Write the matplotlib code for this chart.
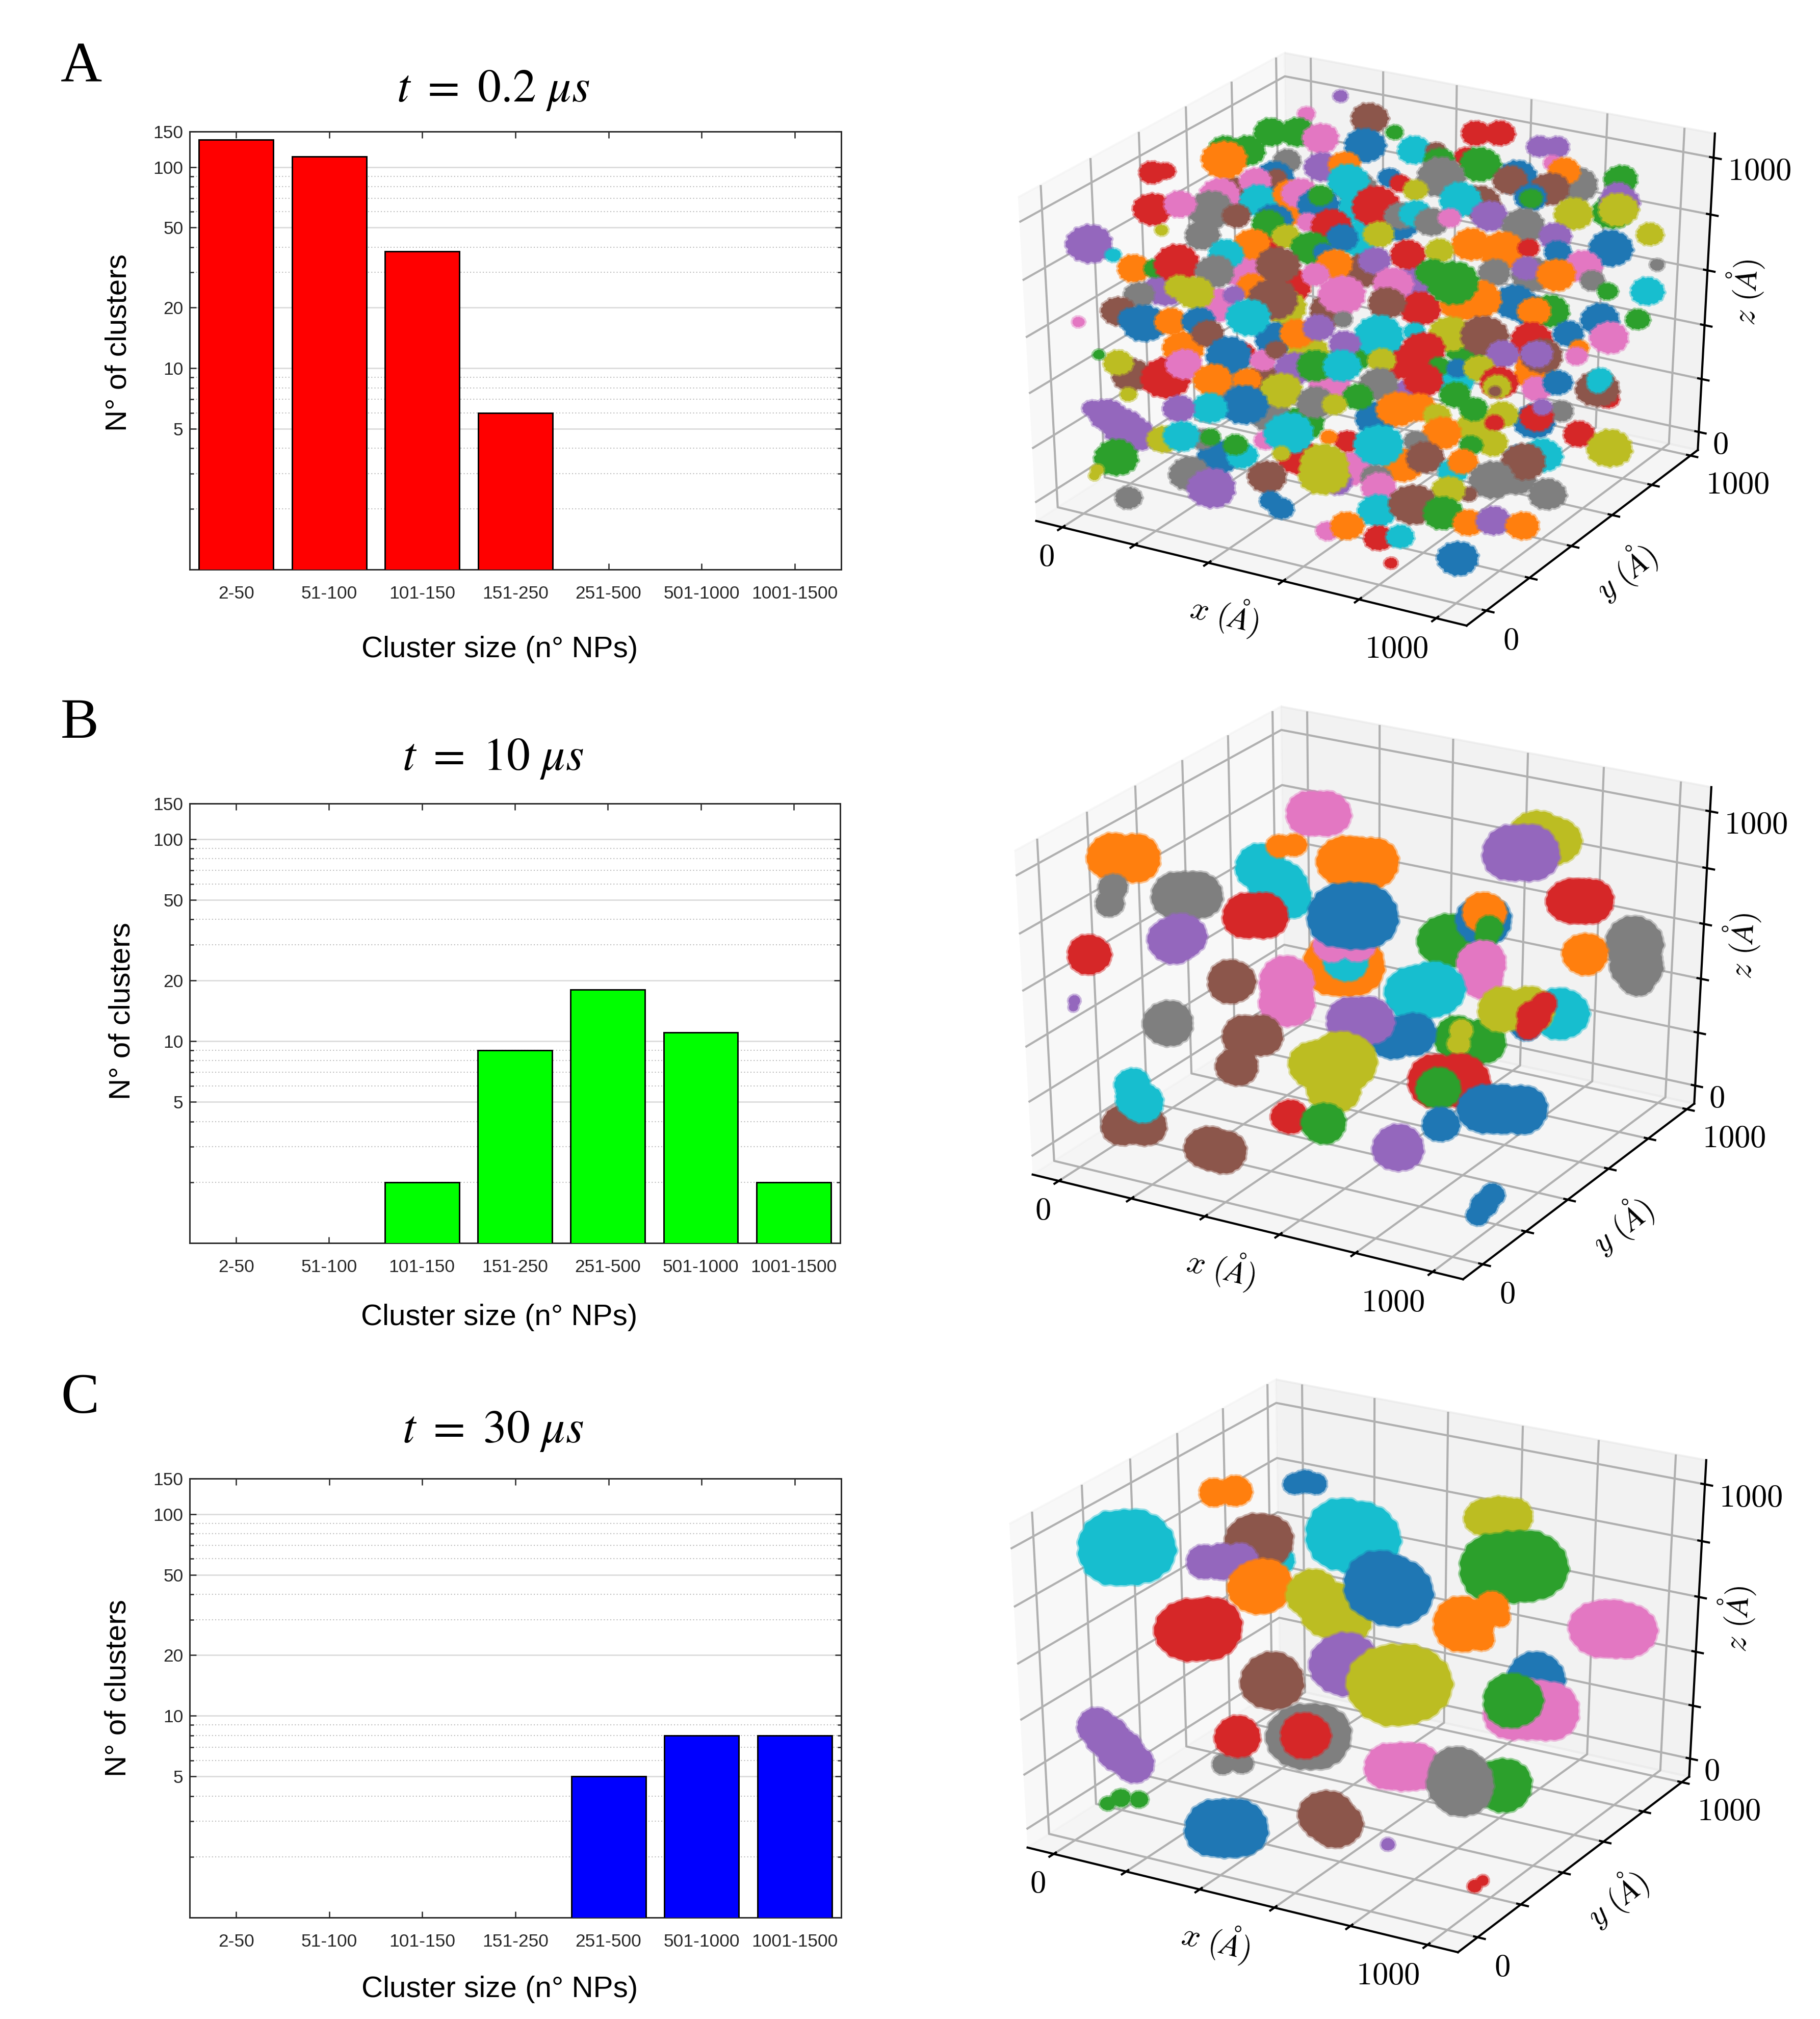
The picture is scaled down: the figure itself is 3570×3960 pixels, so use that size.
import numpy as np
import matplotlib
matplotlib.use("Agg")
import matplotlib.pyplot as plt
from matplotlib.markers import MarkerStyle
from matplotlib.path import Path
from matplotlib.ticker import FixedLocator, NullFormatter, FixedFormatter

W, H = 3570, 3960
plt.rcParams["font.family"] = ["Liberation Sans", "DejaVu Sans"]
plt.rcParams.update({"grid.color": "#b0b0b0", "grid.linewidth": 1.0, "axes.linewidth": 1.0,
                     "xtick.major.width": 1.0, "ytick.major.width": 1.0})

sizes = ["2-50", "51-100", "101-150", "151-250", "251-500", "501-1000", "1001-1500"]
counts_a = [137, 113, 38, 6, 0, 0, 0]
counts_b = [0, 0, 2, 9, 18, 11, 2]
counts_c = [0, 0, 0, 0, 5, 8, 8]

# cluster lobes, back to front: position in angstrom, radius, tab10 index
fill_x = [115,448,858,1009,252,448,767,1100,191,448,555,1115,-82,130,267,464,600,903,55,252,373,615,721,858,-36,221,312,555,736,918,-188,70,191,373,433,585,706,918,206,297,494,767,918,282,55,433,570,873]
fill_y = [500]*48
fill_z = [870,976,1122,1138,849,913,1013,1071,687,802,883,1108,475,605,584,695,690,803,454,500,524,600,649,694,267,379,360,390,495,506,122,173,211,254,384,273,375,459,89,86,165,219,284,-46,-117,-44,14,63]
fill_r = [32]*48
fill_id = [5,7,0,7,1,9,5,2,3,9,0,4,4,6,3,5,4,7,6,8,5,3,1,0,1,0,8,3,2,1,5,7,5,6,2,4,9,1,7,2,0,8,0,3,0,6,1,7]
a_x = fill_x + [116,22,202,-73,7,277,73,503,566,-122,-187,-188,214,348,682,733,412,-378,-339,8,504,433,548,739,770,124,187,203,-2,2,-51,321,350,466,651,943,761,404,943,-133,-155,-322,-242,-11,75,111,162,169,553,850,743,745,970,338,403,445,-42,61,52,499,548,658,169,240,754,369,-231,-115,1088,280,-437,-362,852,995,639,138,51,871,-24,733,801,224,260,488,578,405,1144,-262,-201,-131,-25,313,158,968,828,746,906,1003,274,717,592,648,495,1153,-89,-45,-203,1064,124,79,188,376,502,875,929,894,-239,-195,-157,-82,4,142,-334,1173,1078,41,414,295,353,516,616,710,805,927,1020,1129,653,442,167,130,231,268,1064,-170,-225,982,968,1069,886,-23,37,342,399,476,582,123,224,740,794,705,587,854,1003,1188,1161,1166,1165,1066,922,918,912,355,-70,453,566,821,875,509,266,175,90,-149,-105,-61,-18,694,755,803,972,957,1123,1069,1082,1176,1258,834,963,914,1096,1041,1055,597,554,212,240,109,160,332,315,403,467,704,806,831,3,-53,-62,913,939,464,1019,617,588,588,225,291,443,738,1176,745,982,931,80,471,499,759,852,929,1000,1064,1143,639,692,781,836,818,991]
a_y = fill_y + [980,980,970,970,960,960,960,950,950,940,940,940,930,930,930,920,920,910,910,910,900,900,890,890,890,880,880,870,870,870,860,860,860,850,850,840,840,840,830,830,820,820,820,810,810,800,800,800,790,790,780,780,780,770,770,770,760,760,750,750,750,740,740,730,730,730,720,720,710,710,710,700,700,700,690,690,680,680,680,670,670,660,660,660,650,650,640,640,640,630,630,620,620,620,610,610,610,600,600,590,590,590,580,580,570,570,570,560,560,550,550,550,540,540,540,530,530,520,520,520,510,510,500,500,500,490,490,480,480,480,470,470,460,460,460,450,450,450,440,440,430,430,430,420,420,410,410,410,400,400,390,390,390,380,380,380,370,370,360,360,360,350,350,340,340,340,330,330,320,320,320,310,310,300,300,300,290,290,290,280,280,270,270,270,260,260,250,250,250,240,240,230,230,230,220,220,220,210,210,200,200,200,190,190,180,180,180,170,170,160,160,160,150,150,140,140,140,130,130,130,120,120,110,110,110,100,100,90,90,90,80,80,70,70,70,60,60,60,50,50,40,40,40,30,30,20,20]
a_z = fill_z + [1001,914,948,828,853,921,848,980,996,762,753,711,872,890,987,1004,908,628,645,772,919,886,909,963,942,794,817,768,729,725,706,815,803,860,897,982,901,802,930,646,592,548,589,668,718,732,701,740,831,860,893,891,911,759,743,761,628,641,629,756,784,825,672,681,820,687,544,556,891,658,440,424,825,821,743,636,588,783,530,757,783,630,625,680,724,640,835,431,448,492,491,615,568,789,748,711,748,759,577,619,678,657,615,775,446,436,384,760,511,473,489,557,568,653,661,656,333,320,316,345,375,429,281,722,695,350,510,429,468,486,534,554,580,601,649,672,490,450,338,320,339,387,627,216,230,585,588,611,569,212,288,363,388,416,469,259,294,499,513,443,393,535,508,533,561,598,582,559,521,506,487,328,185,318,374,458,429,333,259,225,196,129,120,87,75,390,421,407,459,431,524,492,531,465,446,368,371,354,375,363,346,276,283,170,191,143,171,158,193,241,287,317,368,318,64,1,-25,304,348,229,314,179,242,205,90,64,154,249,330,219,274,272,-24,94,73,155,207,200,195,223,236,53,89,79,102,5,81]
a_r = fill_r + [12,14,30,27,27,14,28,24,24,28,24,35,33,27,20,20,16,22,16,22,18,24,33,15,25,27,25,33,30,17,25,18,17,38,27,26,30,20,25,32,35,30,26,30,25,28,32,20,33,30,25,18,32,38,25,25,22,30,26,26,18,28,18,32,33,24,11,28,22,25,36,13,26,35,30,22,28,22,28,35,17,30,17,28,22,25,12,27,18,35,30,28,35,30,22,25,30,20,22,35,25,40,32,27,22,30,24,17,25,17,38,36,30,30,30,26,27,22,35,25,26,34,11,20,30,25,15,28,25,38,17,32,38,33,24,30,33,25,22,35,20,17,16,24,10,32,25,18,26,38,28,30,30,30,22,30,22,18,18,30,30,24,24,18,34,20,16,24,30,22,10,32,14,30,24,24,22,20,37,28,25,16,30,34,30,32,26,22,25,15,20,26,16,25,35,30,24,19,32,20,34,20,14,20,16,25,28,25,20,18,38,38,20,30,34,11,9,24,24,14,35,24,38,40,32,37,30,25,30,27,14,26,22,18,20,30,37,32,25,27,26,18,27,24,22,11,32]
a_id = fill_id + [4,6,5,2,2,2,6,3,3,2,2,1,0,9,4,4,5,3,3,7,3,2,2,6,1,4,1,9,0,5,6,0,3,7,5,2,5,8,4,6,7,3,6,9,1,6,0,2,9,8,0,2,8,3,7,9,5,0,2,7,6,4,6,3,7,8,8,7,8,0,4,9,4,0,1,8,1,0,9,1,3,2,0,3,8,4,7,1,2,3,7,1,5,6,4,7,1,7,6,1,2,2,6,9,8,8,7,2,1,4,5,6,5,0,2,1,5,0,0,1,0,9,6,2,0,5,7,1,4,9,9,8,5,3,0,6,3,4,3,0,6,5,1,8,2,5,4,6,4,3,6,4,2,9,8,1,1,2,0,3,7,8,6,3,5,9,9,0,3,8,5,8,8,7,2,2,2,8,0,9,4,4,4,4,4,1,1,8,8,3,7,3,4,3,8,1,8,2,9,0,5,3,1,7,2,8,9,9,2,6,9,9,7,5,2,8,8,9,1,8,7,4,8,8,7,4,5,7,7,6,5,8,7,0,0,9,5,2,1,4,1,6,1,3,9,3,0]
b_x = [41,92,-521,-452,-511,-517,-311,-243,-277,-310,-280,-40,17,53,31,82,-49,8,244,322,283,233,275,271,236,315,278,342,319,810,863,761,807,924,976,950,1099,1113,1120,991,-359,-406,-395,654,755,761,781,780,773,779,117,276,282,-44,641,695,764,832,602,663,508,556,807,806,984,1075,934,1006,1050,1030,1023,283,333,273,493,569,603,560,445,543,846,918,867,991,1089,1040,892,788,284,333,308,65,130,108,139,124,1076,1062,1051]
b_y = [980,970,960,950,940,930,920,910,915,900,890,880,870,860,850,840,830,810,800,790,795,780,770,760,750,740,730,720,710,700,690,680,670,660,650,655,640,630,620,610,600,590,580,570,560,550,540,530,520,510,490,480,470,460,450,440,430,420,410,400,390,380,370,360,350,340,330,320,310,300,290,280,270,260,250,240,230,220,210,200,190,170,160,150,140,145,130,120,110,100,105,90,80,70,60,50,40,30,20]
b_z = [752,769,452,471,348,289,381,404,392,220,249,580,525,501,690,713,420,445,715,734,725,341,359,378,430,457,559,581,580,1005,1002,938,955,825,844,834,737,668,625,682,302,92,127,654,759,794,748,724,634,583,392,446,378,205,523,558,409,420,371,409,415,435,482,437,560,634,612,639,678,635,596,352,372,248,327,363,394,276,144,155,409,442,406,375,411,393,302,189,33,40,36,58,85,233,181,197,160,125,90]
b_r = [47,47,48,50,28,28,48,48,49,48,48,48,55,42,24,24,47,47,52,52,52,65,65,42,34,34,66,66,68,50,50,58,58,46,46,47,55,50,35,43,42,10,12,55,52,42,26,22,46,40,46,52,52,47,58,58,45,45,44,44,50,50,22,22,30,54,47,47,24,32,24,42,42,40,50,65,45,50,35,42,56,56,42,50,50,52,36,48,44,44,44,42,42,34,40,36,24,26,22]
b_id = [6,6,1,1,7,7,7,7,7,4,4,9,9,9,1,1,3,3,1,1,1,1,1,9,6,6,0,0,0,8,8,4,4,3,3,3,7,7,7,1,3,4,4,2,0,1,2,2,6,6,5,6,6,7,9,9,2,2,0,0,4,4,8,8,0,9,8,8,3,3,3,5,5,5,8,8,8,8,3,2,3,3,2,0,0,0,0,4,5,5,5,5,5,9,9,9,0,0,0]
c_x = [-217,-150,30,95,71,-458,-405,25,-35,-3,-160,-105,-49,14,35,276,325,200,263,305,411,459,699,784,752,758,850,815,-56,10,710,795,775,827,1093,1164,1128,244,453,586,634,977,927,1025,990,947,-170,-134,-91,-42,217,281,277,459,507,485,714,794,754,1023,920,937,938,0,45,103,325,389,357,642,675,815,1051,1077]
c_y = [980,970,950,940,930,910,900,880,870,860,840,830,820,800,790,770,760,750,730,720,710,690,680,660,650,640,620,610,600,580,570,550,540,530,510,500,505,490,470,460,450,430,420,400,390,380,360,350,340,320,310,290,280,270,250,240,230,210,220,200,180,170,160,140,130,120,100,90,95,70,60,50,30,20]
c_z = [663,691,772,793,802,424,444,524,584,597,485,505,530,457,476,737,740,509,474,459,618,618,951,986,987,808,850,841,378,415,633,727,614,709,756,774,765,331,465,436,456,588,454,502,504,527,110,86,48,26,111,145,248,309,337,336,300,336,318,348,369,319,355,-10,32,50,24,50,37,190,175,153,91,125]
c_r = [30,32,22,22,24,78,78,30,55,55,36,38,36,55,55,75,75,50,58,52,72,72,38,38,40,73,73,73,64,64,58,32,25,20,58,58,60,59,65,83,83,55,55,60,62,57,38,42,44,38,22,22,43,67,67,48,48,48,50,55,55,55,62,15,19,18,59,59,60,52,50,14,14,12]
c_id = [1,1,0,0,0,9,9,9,5,5,4,4,4,1,1,9,9,8,8,8,0,0,8,8,8,2,2,2,3,3,1,1,1,1,6,6,6,5,4,8,8,0,6,6,6,2,4,4,4,4,7,7,3,7,7,3,6,6,6,2,7,7,7,2,2,2,0,0,0,5,5,4,3,3]


def lumpy_marker(k, stretch, bump):
    t = np.linspace(0, 2*np.pi, 181)
    rad = 1 + bump*(0.016*np.cos(13*t+k) + 0.012*np.cos(23*t+2*k)) + 0.02*np.cos(3*t+k)
    return MarkerStyle(Path(np.c_[stretch*rad*np.cos(t), rad*np.sin(t)], closed=True))


def bar_panel(box, values, color, title, title_y, xlab, ylab):
    l, r, t, b = box
    ax = fig.add_axes([l/W, 1-b/H, (r-l)/W, (b-t)/H])
    pos = np.arange(1, 8)
    keep = [i for i, v in enumerate(values) if v > 0]
    ax.set_yscale("log")
    ax.bar(pos[keep], [values[i] for i in keep], width=0.8, color=color, edgecolor="black", linewidth=0.7, zorder=3)
    ax.set_xlim(0.5, 7.5)
    ax.set_ylim(1, 150)
    ax.set_xticks(pos)
    ax.set_xticklabels(sizes)
    ax.yaxis.set_major_locator(FixedLocator([5, 10, 20, 50, 100, 150]))
    ax.yaxis.set_major_formatter(FixedFormatter(["5", "10", "20", "50", "100", "150"]))
    ax.yaxis.set_minor_locator(FixedLocator([2, 3, 4, 6, 7, 8, 9, 30, 40, 60, 70, 80, 90]))
    ax.yaxis.set_minor_formatter(NullFormatter())
    ax.grid(True, axis="y", which="major", color="#dddddd", linewidth=0.7)
    ax.grid(True, axis="y", which="minor", color="#bbbbbb", linewidth=0.5, linestyle=(0, (1, 2)))
    ax.set_axisbelow(True)
    ax.tick_params(which="both", direction="in", top=True, right=True, color="#262626", width=0.6)
    ax.tick_params(which="major", length=3, labelsize=8.5, labelcolor="#262626")
    ax.tick_params(which="minor", length=1.8)
    ax.tick_params(axis="x", which="major", pad=7.4)
    ax.tick_params(axis="y", which="major", pad=3)
    for s in ax.spines.values():
        s.set_linewidth(0.7)
        s.set_color("#262626")
    ax.set_xlabel("Cluster size (n° NPs)", fontsize=14, va="center")
    ax.xaxis.set_label_coords(*xlab)
    ax.set_ylabel("N° of clusters", fontsize=14, va="center")
    ax.yaxis.set_label_coords(*ylab)
    ax.text(0.466, title_y, title, transform=ax.transAxes, fontsize=22, ha="center", va="center", math_fontfamily="stix")


def cube_panel(cx, cy, x, y, z, r, ids, stretch, grow, bump):
    sw, sh = 1730.7, 1286.4
    ax = fig.add_axes([(cx-sw/2)/W, 1-(cy+sh/2)/H, sw/W, sh/H], projection="3d", computed_zorder=False)
    ax.apply_aspect = lambda position=None: None
    ax.set_box_aspect((1, 1, 1), zoom=0.9467)
    ax.view_init(30, -60)
    markers = [lumpy_marker(k, stretch, bump) for k in range(5)]
    for i in range(len(x)):
        rgb = matplotlib.colors.to_rgb(f"C{ids[i]}")
        d = 2*stretch*(r[i]*grow-1.5)*72/300
        ax.scatter([x[i]], [y[i]], [z[i]], s=d**2, c=[rgb], edgecolors=[rgb+(0.45,)], linewidths=1.6, marker=markers[i % 5], depthshade=False)
    ax.set_xlim(-73, 1078)
    ax.set_ylim(-89.6, 1038.6)
    ax.set_zlim(-69, 1084)
    ticks = [0, 200, 400, 600, 800, 1000]
    labels = ["$0$", "", "", "", "", "$1000$"]
    ax.set_xticks(ticks); ax.set_yticks(ticks); ax.set_zticks(ticks)
    ax.set_xticklabels(labels, fontsize=15, math_fontfamily="cm", ha="right")
    ax.set_yticklabels(labels, fontsize=15, math_fontfamily="cm", ha="left")
    ax.set_zticklabels(labels, fontsize=15, math_fontfamily="cm", ha="left")
    ax.tick_params(axis="x", pad=-2)
    ax.tick_params(axis="y", pad=-1)
    ax.tick_params(axis="z", pad=-4)
    ax.set_xlabel(r"$x\ (\AA)$", fontsize=15, math_fontfamily="cm", labelpad=-5)
    ax.set_ylabel(r"$y\ (\AA)$", fontsize=15, math_fontfamily="cm", labelpad=-4)
    ax.set_zlabel(r"$z\ (\AA)$", fontsize=15, math_fontfamily="cm", labelpad=-10)
    ax.patch.set_alpha(0)


fig = plt.figure(figsize=(W/300, H/300), dpi=300)
bar_panel((372, 1650, 258, 1117), counts_a, "#ff0000", r"$t\ =\ 0.2\ \mu s$", 1.094, (0.476, -0.183), (-0.109, 0.518))
bar_panel((372, 1648, 1576, 2438), counts_b, "#00ff00", r"$t\ =\ 10\ \mu s$", 1.102, (0.476, -0.169), (-0.104, 0.528))
bar_panel((372, 1650, 2900, 3761), counts_c, "#0000ff", r"$t\ =\ 30\ \mu s$", 1.108, (0.476, -0.164), (-0.11, 0.523))
cube_panel(2651.5+17, 3264.8-2602, a_x, a_y, a_z, a_r, a_id, 1.22, 1.1, 2.0)
cube_panel(2651.5+10, 3264.8-1320, b_x, b_y, b_z, b_r, b_id, 1.1, 1.0, 1.0)
cube_panel(2651.5, 3264.8, c_x, c_y, c_z, c_r, c_id, 1.1, 1.0, 1.0)
for letter, ypx in zip("ABC", (161, 1447, 2771)):
    fig.text(119/W, 1-ypx/H, letter, fontsize=27, family="Liberation Serif", va="baseline")
fig.savefig("out.png")
